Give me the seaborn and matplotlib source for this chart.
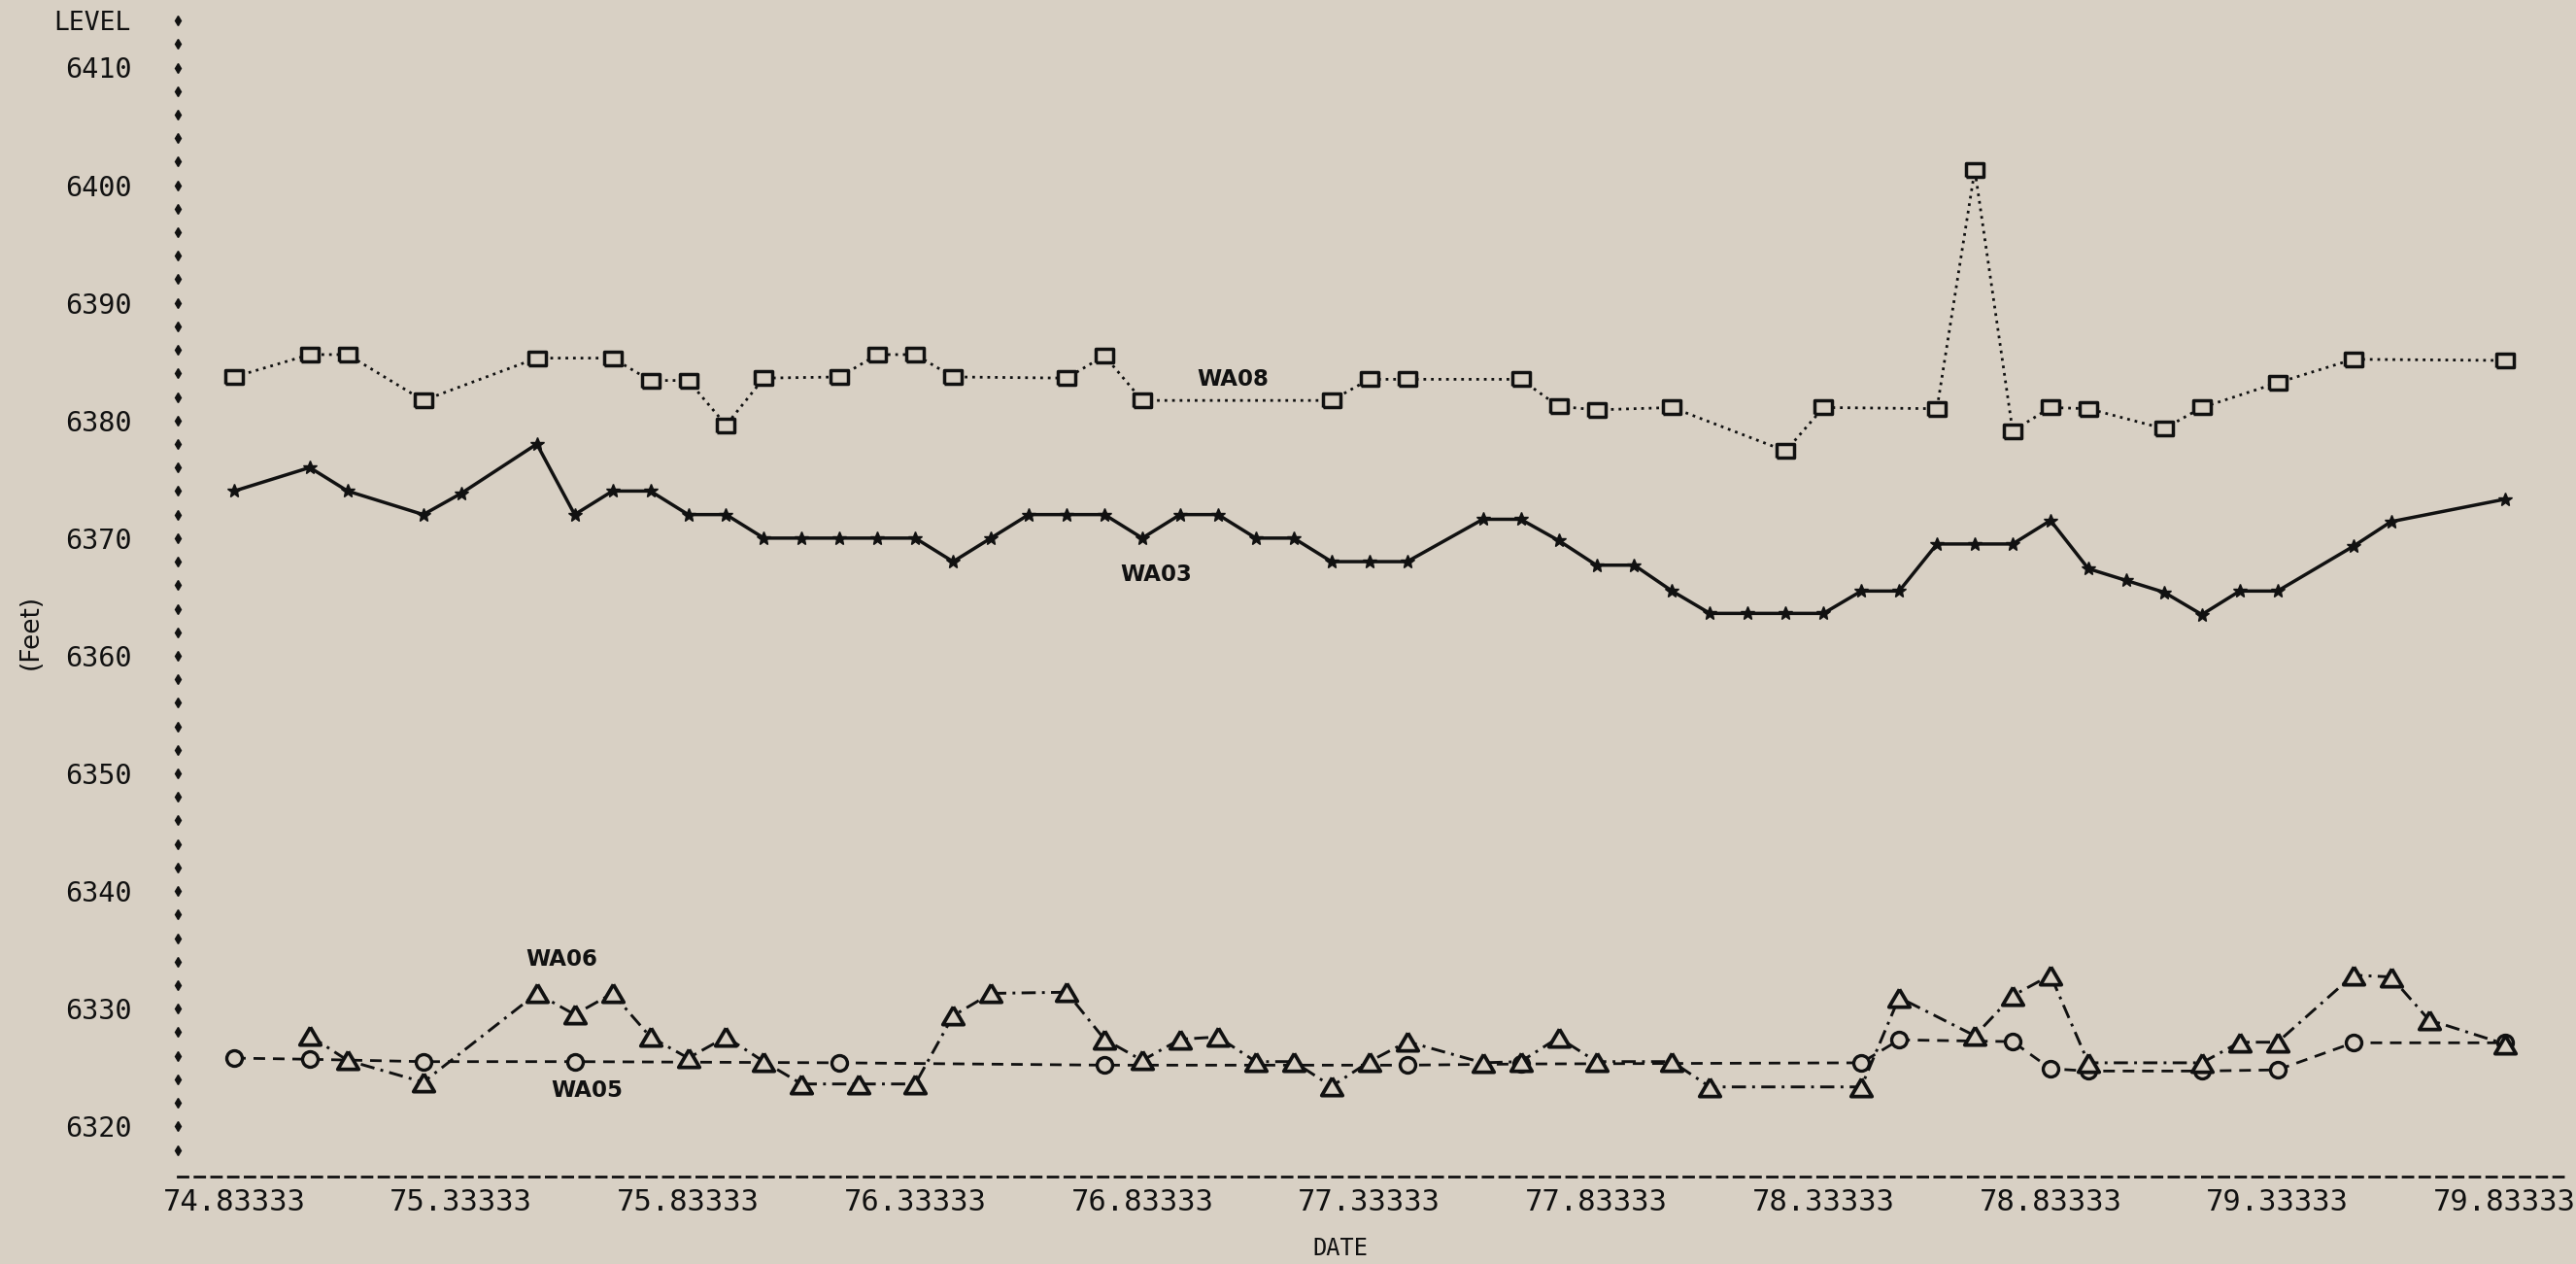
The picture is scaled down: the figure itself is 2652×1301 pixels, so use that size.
import numpy as np
import pandas as pd
import matplotlib
matplotlib.use("Agg")
import matplotlib.pyplot as plt
import matplotlib.transforms as mtransforms
from matplotlib.ticker import FixedLocator, FixedFormatter
import seaborn as sns

# ---------------- data ----------------
START = 74.83333  # first date on the axis; readings are monthly offsets from it

wa03_month = [0, 2, 3, 5, 6, 8, 9, 10, 11, 12, 13, 14, 15, 16, 17, 18, 19, 20, 21, 22, 23,
              24, 25, 26, 27, 28, 29, 30, 31, 33, 34, 35, 36, 37, 38, 39, 40, 41, 42, 43,
              44, 45, 46, 47, 48, 49, 50, 51, 52, 53, 54, 56, 57, 60]
wa03_level = [6374, 6376, 6374, 6372, 6373.8, 6378, 6372, 6374, 6374, 6372, 6372, 6370,
              6370, 6370, 6370, 6370, 6368, 6370, 6372, 6372, 6372, 6370, 6372, 6372, 6370,
              6370, 6368, 6368, 6368, 6371.6, 6371.6, 6369.8, 6367.7, 6367.7, 6365.5,
              6363.6, 6363.6, 6363.6, 6363.6, 6365.5, 6365.5, 6369.5, 6369.5, 6369.5,
              6371.5, 6367.4, 6366.4, 6365.4, 6363.5, 6365.5, 6365.5, 6369.3, 6371.4, 6373.3]

wa08_month = [0, 2, 3, 5, 8, 10, 11, 12, 13, 14, 16, 17, 18, 19, 22, 23, 24, 29, 30, 31,
              34, 35, 36, 38, 41, 42, 45, 46, 47, 48, 49, 51, 52, 54, 56, 60]
wa08_level = [6383.7, 6385.6, 6385.6, 6381.7, 6385.3, 6385.3, 6383.4, 6383.4, 6379.6,
              6383.6, 6383.7, 6385.6, 6385.6, 6383.7, 6383.6, 6385.5, 6381.7, 6381.7,
              6383.5, 6383.5, 6383.5, 6381.2, 6380.9, 6381.1, 6377.4, 6381.1, 6381.0,
              6401.3, 6379.1, 6381.1, 6381.0, 6379.3, 6381.1, 6383.2, 6385.2, 6385.1]

wa05_month = [0, 2, 5, 9, 16, 23, 31, 34, 43, 44, 47, 48, 49, 52, 54, 56, 60]
wa05_level = [6325.8, 6325.7, 6325.5, 6325.5, 6325.4, 6325.2, 6325.2, 6325.3, 6325.4,
              6327.35, 6327.2, 6324.9, 6324.7, 6324.7, 6324.8, 6327.1, 6327.1]

wa06_month = [2, 3, 5, 8, 9, 10, 11, 12, 13, 14, 15, 16.5, 18, 19, 20, 22, 23, 24, 25, 26,
              27, 28, 29, 30, 31, 33, 34, 35, 36, 38, 39, 43, 44, 46, 47, 48, 49, 52, 53,
              54, 56, 57, 58, 60]
wa06_level = [6327.7, 6325.6, 6323.75, 6331.3, 6329.5, 6331.3, 6327.6, 6325.8, 6327.6,
              6325.5, 6323.6, 6323.6, 6323.6, 6329.4, 6331.3, 6331.4, 6327.4, 6325.6,
              6327.4, 6327.6, 6325.5, 6325.5, 6323.4, 6325.5, 6327.2, 6325.4, 6325.5,
              6327.55, 6325.5, 6325.5, 6323.35, 6323.35, 6330.95, 6327.7, 6331.1, 6332.85,
              6325.4, 6325.4, 6327.15, 6327.15, 6332.85, 6332.7, 6329.05, 6327.0]

x_tick_labels = ["74.83333", "75.33333", "75.83333", "76.33333", "76.83333", "77.33333",
                 "77.83333", "78.33333", "78.83333", "79.33333", "79.83333"]
y_tick_values = [6320, 6330, 6340, 6350, 6360, 6370, 6380, 6390, 6400, 6410]

# series name labels placed on the chart (text, x date, y level)
series_labels = [("WA08", 77.032, 6383.45), ("WA03", 76.863, 6366.9),
                 ("WA06", 75.554, 6334.2), ("WA05", 75.610, 6323.0)]


def frame(months, levels):
    return pd.DataFrame({"date": START + np.asarray(months, dtype=float) / 12.0,
                         "level": np.asarray(levels, dtype=float)})


# ---------------- style ----------------
BG = "#d8d0c4"
INK = "#111111"
sns.set_theme(style="white")
plt.rcParams["font.family"] = ["DejaVu Sans Mono", "DejaVu Sans"]

W, H = 2652, 1301
fig = plt.figure(figsize=(W / 100, H / 100), dpi=100, facecolor=BG)
ax_left, ax_right, ax_top, ax_bottom = 183, 2640, 15, 1211
ax = fig.add_axes([ax_left / W, 1 - ax_bottom / H,
                   (ax_right - ax_left) / W, (ax_bottom - ax_top) / H])
ax.set_facecolor(BG)

# custom marker shapes resembling the line-printer glyphs
rect_marker = [(-1, -0.85), (1, -0.85), (1, 0.85), (-1, 0.85), (-1, -0.85)]
tri_marker = [(0, 0.85), (-1, -0.85), (1, -0.85), (0, 0.85)]

sns.lineplot(data=frame(wa05_month, wa05_level), x="date", y="level", ax=ax,
             color=INK, lw=2.0, linestyle=(0, (4.3, 2.9)),
             marker="o", ms=11.5, mfc=BG, mec=INK, mew=2.4,
             estimator=None, sort=True)
sns.lineplot(data=frame(wa06_month, wa06_level), x="date", y="level", ax=ax,
             color=INK, lw=2.1, linestyle=(0, (5, 2.2, 1, 2.2)),
             marker=tri_marker, ms=15.5, mfc=BG, mec=INK, mew=2.7,
             estimator=None, sort=True)
sns.lineplot(data=frame(wa08_month, wa08_level), x="date", y="level", ax=ax,
             color=INK, lw=2.0, linestyle=(0, (1, 1.8)),
             marker=rect_marker, ms=12.5, mfc=BG, mec=INK, mew=2.5,
             estimator=None, sort=True)
sns.lineplot(data=frame(wa03_month, wa03_level), x="date", y="level", ax=ax,
             color=INK, lw=2.5, linestyle="-",
             marker="*", ms=10.5, mfc=INK, mec=INK, mew=1,
             estimator=None, sort=True)

# axes limits matching the page layout
x0 = START - (241 - ax_left) / 467.5
x1 = START + (ax_right - 241) / 467.5
ppu = (1159.3 - 69.5) / 90.0
y0 = 6410 - (ax_bottom - 69.5) / ppu
y1 = 6410 + (69.5 - ax_top) / ppu
ax.set_xlim(x0, x1)
ax.set_ylim(y0, y1)

# x axis: dashed base line with "+" ticks
ax.xaxis.set_major_locator(FixedLocator([float(s) for s in x_tick_labels]))
ax.xaxis.set_major_formatter(FixedFormatter(x_tick_labels))
ax.tick_params(axis="x", direction="inout", length=12, width=2.6, pad=3,
               labelsize=22, colors=INK)
ax.set_yticks(y_tick_values)
ax.set_yticklabels([str(v) for v in y_tick_values])
ax.tick_params(axis="y", length=0, pad=34, labelsize=20.5, colors=INK)

for s in ("top", "right", "left"):
    ax.spines[s].set_visible(False)
ax.spines["bottom"].set_color(INK)
ax.spines["bottom"].set_linewidth(2.0)
ax.spines["bottom"].set_linestyle((0, (3.6, 2.6)))

# left axis drawn as a column of printer "+" marks every 2 ft
rows = np.arange(6318, 6415, 2)
trans = mtransforms.blended_transform_factory(ax.transAxes, ax.transData)
ax.plot(np.zeros(len(rows)), rows, ls="none", marker="d", ms=5.5, color=INK,
        mec=INK, transform=trans, clip_on=False)

ax.set_xlabel("")
ax.set_ylabel("")

# series labels
for txt, xv, yv in series_labels:
    ax.text(xv, yv, txt, ha="center", va="center", fontsize=16.5,
            fontweight="bold", family=["DejaVu Sans"], color=INK)

# page texts
fig.text(135 / W, 1 - 24 / H, "LEVEL", ha="right", va="center", fontsize=19,
         color=INK)
fig.text(32 / W, 1 - 650 / H, "(Feet)", ha="center", va="center", rotation=90,
         fontsize=19, family=["DejaVu Sans"], color=INK)
fig.text(1380 / W, 1 - 1285 / H, "DATE", ha="center", va="center", fontsize=17,
         color=INK)

fig.savefig("out.png", dpi=100, facecolor=BG)
